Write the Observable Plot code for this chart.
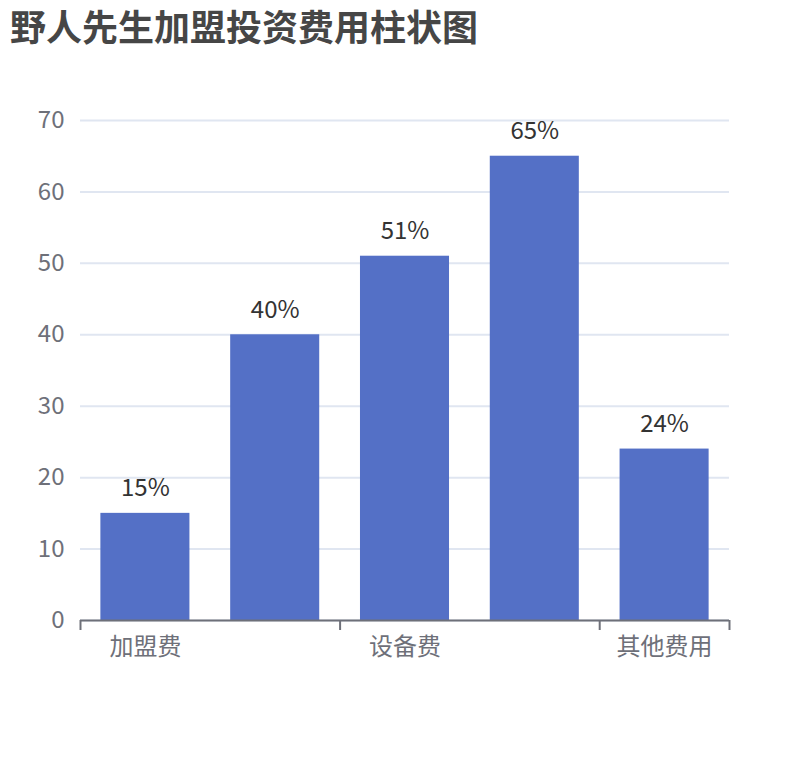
<!DOCTYPE html>
<html>
<head>
<meta charset="utf-8">
<script src="https://cdn.jsdelivr.net/npm/d3@7"></script>
<script src="https://cdn.jsdelivr.net/npm/@observablehq/plot@0.6"></script>
<style>
  html, body { margin: 0; padding: 0; background: #fff; }
  #title { height: 50px; line-height: 50px; padding-left: 10px; font-family: 'Noto Sans CJK SC', sans-serif; font-size: 36px; font-weight: bold; color: #464646; white-space: nowrap; }
  #chart svg { display: block; }
</style>
</head>
<body>
<div id="title">野人先生加盟投资费用柱状图</div>
<div id="chart"></div>
<script>
const categories = ["加盟费", "装修费", "设备费", "房租费", "其他费用"];
const values = [15, 40, 51, 65, 24];
const valueLabels = ["15%", "40%", "51%", "65%", "24%"];
const shownLabelIndex = [0, 2, 4];
const yTicks = [0, 10, 20, 30, 40, 50, 60, 70];

const gap = 0.314;
const data = categories.map((c, i) => ({ category: c, index: i, value: values[i], label: valueLabels[i] }));

const chart = Plot.plot({
  width: 810,
  height: 710,
  marginTop: 70,
  marginBottom: 140,
  marginLeft: 80,
  marginRight: 81,
  style: { fontFamily: "'Noto Sans CJK SC', sans-serif", background: "#fff", overflow: "visible" },
  x: { domain: [0, categories.length], axis: null },
  y: { domain: [0, 70], axis: null },
  marks: [
    Plot.gridY(yTicks, { stroke: "#e0e6f1", strokeOpacity: 1, strokeWidth: 2 }),
    Plot.axisY(yTicks, { tickSize: 0, tickPadding: 16, fontSize: 24, fill: "#6e7079", label: null }),
    Plot.rectY(data, {
      x1: d => d.index + gap / 2,
      x2: d => d.index + 1 - gap / 2,
      y1: 0,
      y2: "value",
      fill: "#5470c6"
    }),
    Plot.ruleY([0], { stroke: "#6e7079", strokeWidth: 2 }),
    Plot.axisX({
      ticks: [...shownLabelIndex, categories.length],
      tickSize: 10,
      tickFormat: () => "",
      stroke: "#6e7079",
      strokeWidth: 2,
      label: null
    }),
    Plot.axisX({
      ticks: shownLabelIndex.map(i => i + 0.5),
      tickSize: 0,
      tickPadding: 17,
      tickFormat: v => categories[Math.floor(v)],
      fontSize: 24,
      fill: "#6e7079",
      label: null
    }),
    Plot.text(data, {
      x: d => d.index + 0.5,
      y: "value",
      text: "label",
      lineAnchor: "bottom",
      dy: -17,
      fontSize: 24,
      fill: "#333"
    })
  ]
});
document.getElementById("chart").appendChild(chart);
</script>
</body>
</html>
